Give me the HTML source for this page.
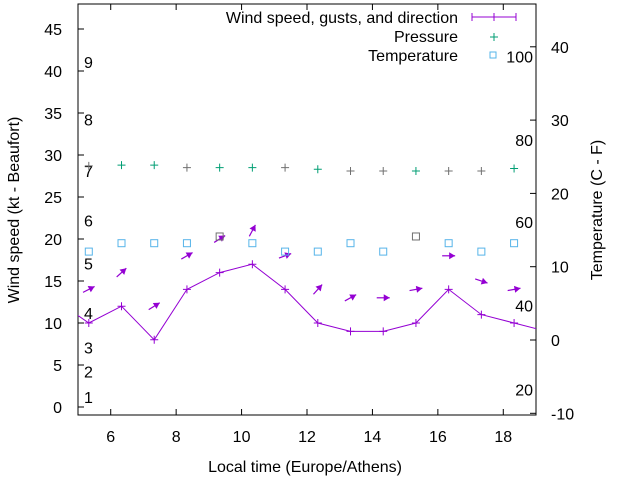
<!DOCTYPE html>
<html><head><meta charset="utf-8"><style>
body{margin:0;background:#fff}
svg{display:block;font-family:"Liberation Sans",sans-serif;font-size:16px}
</style></head><body>
<svg width="640" height="480">
<g id="g"></g>
</svg>
<script>
const hours=[5.33,6.33,7.33,8.33,9.33,10.33,11.33,12.33,13.33,14.33,15.33,16.33,17.33,18.33];
const windHours=[4.33,5.33,6.33,7.33,8.33,9.33,10.33,11.33,12.33,13.33,14.33,15.33,16.33,17.33,18.33,19.33];
const windSpeed=[12.7,10,12,8,14,16,17,14,10,9,9,10,14,11,10,9];
const gusts=[14,16,12,18,20,21,18,14,13,13,14,18,15,14];
const directions=[27,42,32,30,32,62,20,48,29,0,10,0,-18,10];
const pressure=[28.7,28.8,28.8,28.5,28.5,28.5,28.5,28.3,28.1,28.1,28.1,28.1,28.1,28.4];
const pressureGrey=[1,0,0,1,0,0,1,0,1,1,0,1,1,0];
const temperature=[18.5,19.5,19.5,19.5,20.3,19.5,18.5,18.5,19.5,18.5,20.3,19.5,18.5,19.5];
const tempGrey=[0,0,0,0,1,0,0,0,0,0,1,0,0,0];
const xTicks=[6,8,10,12,14,16,18];
const yTicks=[0,5,10,15,20,25,30,35,40,45];
const y2Ticks=[-10,0,10,20,30,40];
const beaufort=["1","2","3","4","5","6","7","8","9"];
const beaufortAt=[1.2,4.2,7.1,11.2,17.1,22.2,28.1,34.2,41.1];
const fahr=["100","80","60","40","20"];
const fahrAt=[41.7,31.8,22.0,12.1,2.1];

const L=78,R=536,T=4,B=415;
const X=v=>L+(v-5)/14*(R-L);
const Y=v=>407-v*8.4;
const Y2=v=>340-v*7.33;
const g=document.getElementById('g');
const NS='http://www.w3.org/2000/svg';
function mk(tag,attrs,parent){const e=document.createElementNS(NS,tag);for(const k in attrs)e.setAttribute(k,attrs[k]);(parent||g).appendChild(e);return e;}
function txt(x,y,s,anchor,extra){const t=mk('text',Object.assign({x:x,y:y,'text-anchor':anchor||'start',fill:'#000'},extra||{}));t.textContent=s;return t;}

const defs=mk('defs',{});const cp=mk('clipPath',{id:'c'},defs);mk('rect',{x:L,y:T,width:R-L,height:B-T},cp);

xTicks.forEach(v=>{
  const x=X(v);
  const t1=mk('line',{x1:x,y1:B,x2:x,y2:B-6,stroke:'#000'});
  
  mk('line',{x1:x,y1:T,x2:x,y2:T+6,stroke:'#000'});
  const l=txt(x,442,String(v),'middle');
  
});
yTicks.forEach(v=>{
  const y=Y(v);
  mk('line',{x1:L,y1:y,x2:L+6,y2:y,stroke:'#000'});
  const l=txt(62,y+6,String(v),'end');
  
});
y2Ticks.forEach(v=>{
  const y=Y2(v);
  mk('line',{x1:R,y1:y,x2:R-6,y2:y,stroke:'#000'});
  const l=txt(551,y+6,String(v),'start');
  
});
beaufort.forEach((s,i)=>{
  const l=txt(84,Y(beaufortAt[i])+6,s,'start');
  
});
fahr.forEach((s,i)=>{
  const l=txt(533,Y(fahrAt[i])+6,s,'end');
  
});

const frame=mk('rect',{x:L,y:T,width:R-L,height:B-T,fill:'none',stroke:'#000'});


const pg=mk('g',{'clip-path':'url(#c)'});
const pts=windHours.map((h,i)=>X(h)+','+Y(windSpeed[i])).join(' ');
const wl=mk('polyline',{points:pts,fill:'none',stroke:'#9400d3','stroke-width':1},pg);

windHours.forEach((h,i)=>{
  const x=X(h),y=Y(windSpeed[i]);
  const p=mk('path',{d:`M${x-4},${y}h8M${x},${y-4}v8`,stroke:'#9400d3'},pg);
  
});
hours.forEach((h,i)=>{
  const cx=X(h),cy=Y(gusts[i]),a=directions[i]*Math.PI/180,len=13;
  const dx=Math.cos(a)*len/2,dy=-Math.sin(a)*len/2;
  const x1=cx-dx,y1=cy-dy,x2=cx+dx,y2=cy+dy;
  const ux=Math.cos(a),uy=-Math.sin(a);
  const hx=x2-ux*6,hy=y2-uy*6;
  const ar=mk('g',{},pg);
  
  mk('line',{x1:x1,y1:y1,x2:x2,y2:y2,stroke:'#9400d3','stroke-width':1.2},ar);
  mk('polygon',{points:`${x2},${y2} ${hx-uy*3.5},${hy+ux*3.5} ${hx+uy*3.5},${hy-ux*3.5}`,fill:'#9400d3'},ar);
});
hours.forEach((h,i)=>{
  const x=X(h),y=Y(pressure[i]);
  const p=mk('path',{d:`M${x-4},${y}h8M${x},${y-4}v8`,stroke:pressureGrey[i]?'#707070':'#009e73'},pg);
  
});
hours.forEach((h,i)=>{
  const x=X(h),y=Y(temperature[i]);
  const p=mk('rect',{x:x-3.5,y:y-3.5,width:7,height:7,fill:'none',stroke:tempGrey[i]?'#707070':'#56b4e9'},pg);
  
});

const lg=mk('g',{});

let t=txt(458,23,'Wind speed, gusts, and direction','end');lg.appendChild(t);
mk('path',{d:'M472,17h44M472,13v8M516,13v8M494,13v8',stroke:'#9400d3'},lg);
t=txt(458,42,'Pressure','end');lg.appendChild(t);
mk('path',{d:'M490,37h8M494,33v8',stroke:'#009e73'},lg);
t=txt(458,61,'Temperature','end');lg.appendChild(t);
mk('rect',{x:490,y:52,width:6,height:6,fill:'none',stroke:'#56b4e9'},lg);

let at=txt(305,472,'Local time (Europe/Athens)','middle');

at=txt(0,0,'Wind speed (kt - Beaufort)','middle',{transform:'translate(19,210) rotate(-90)'});

at=txt(0,0,'Temperature (C - F)','middle',{transform:'translate(602,210) rotate(-90)'});

</script>
</body></html>
